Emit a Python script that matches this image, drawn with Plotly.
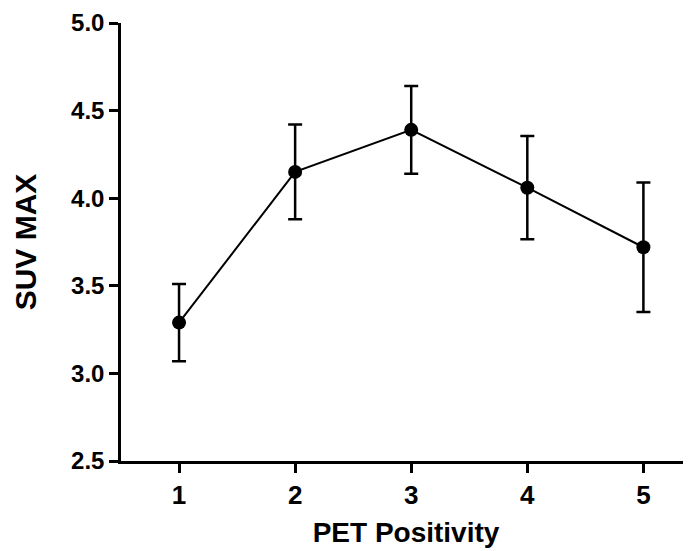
import plotly.graph_objects as go

categories = [1, 2, 3, 4, 5]
suv_max = [3.29, 4.15, 4.39, 4.06, 3.72]
err = [0.22, 0.27, 0.25, 0.295, 0.37]
y_ticks = [2.5, 3.0, 3.5, 4.0, 4.5, 5.0]
y_tick_labels = ["2.5", "3.0", "3.5", "4.0", "4.5", "5.0"]

FONT = "Liberation Sans, Arial, sans-serif"

fig = go.Figure()
fig.add_trace(go.Scatter(
    x=categories, y=suv_max,
    mode="lines+markers",
    line=dict(color="black", width=2),
    marker=dict(color="black", size=14, symbol="circle"),
    error_y=dict(type="data", array=err, visible=True,
                 color="black", thickness=2.5, width=7),
    showlegend=False,
    cliponaxis=False,
))

# page body has an 8px margin, so the figure is offset by 8px
fig.update_layout(
    width=683, height=543,
    margin=dict(l=113, r=0, t=15, b=90),
    paper_bgcolor="white", plot_bgcolor="white",
    xaxis=dict(
        range=[0.5, 5.41], automargin=False,
        tickmode="array", tickvals=categories,
        ticktext=[str(c) for c in categories],
        showline=True, linecolor="black", linewidth=2.5,
        ticks="outside", ticklen=9, tickwidth=2.5, tickcolor="black",
        showgrid=False, zeroline=False,
        tickfont=dict(family=FONT, size=26, color="black", weight="bold"),
        title=dict(text="PET Positivity", standoff=14,
                   font=dict(family=FONT, size=28, color="black", weight="bold")),
    ),
    yaxis=dict(
        range=[2.5, 5.0], automargin=False,
        tickmode="array", tickvals=y_ticks, ticktext=y_tick_labels,
        showline=True, linecolor="black", linewidth=2.5,
        ticks="outside", ticklen=9, tickwidth=2.5, tickcolor="black",
        showgrid=False, zeroline=False,
        tickfont=dict(family=FONT, size=24, color="black", weight="bold"),
        title=dict(text="SUV MAX", standoff=26,
                   font=dict(family=FONT, size=30, color="black", weight="bold")),
    ),
)

fig.write_html("out.html")
